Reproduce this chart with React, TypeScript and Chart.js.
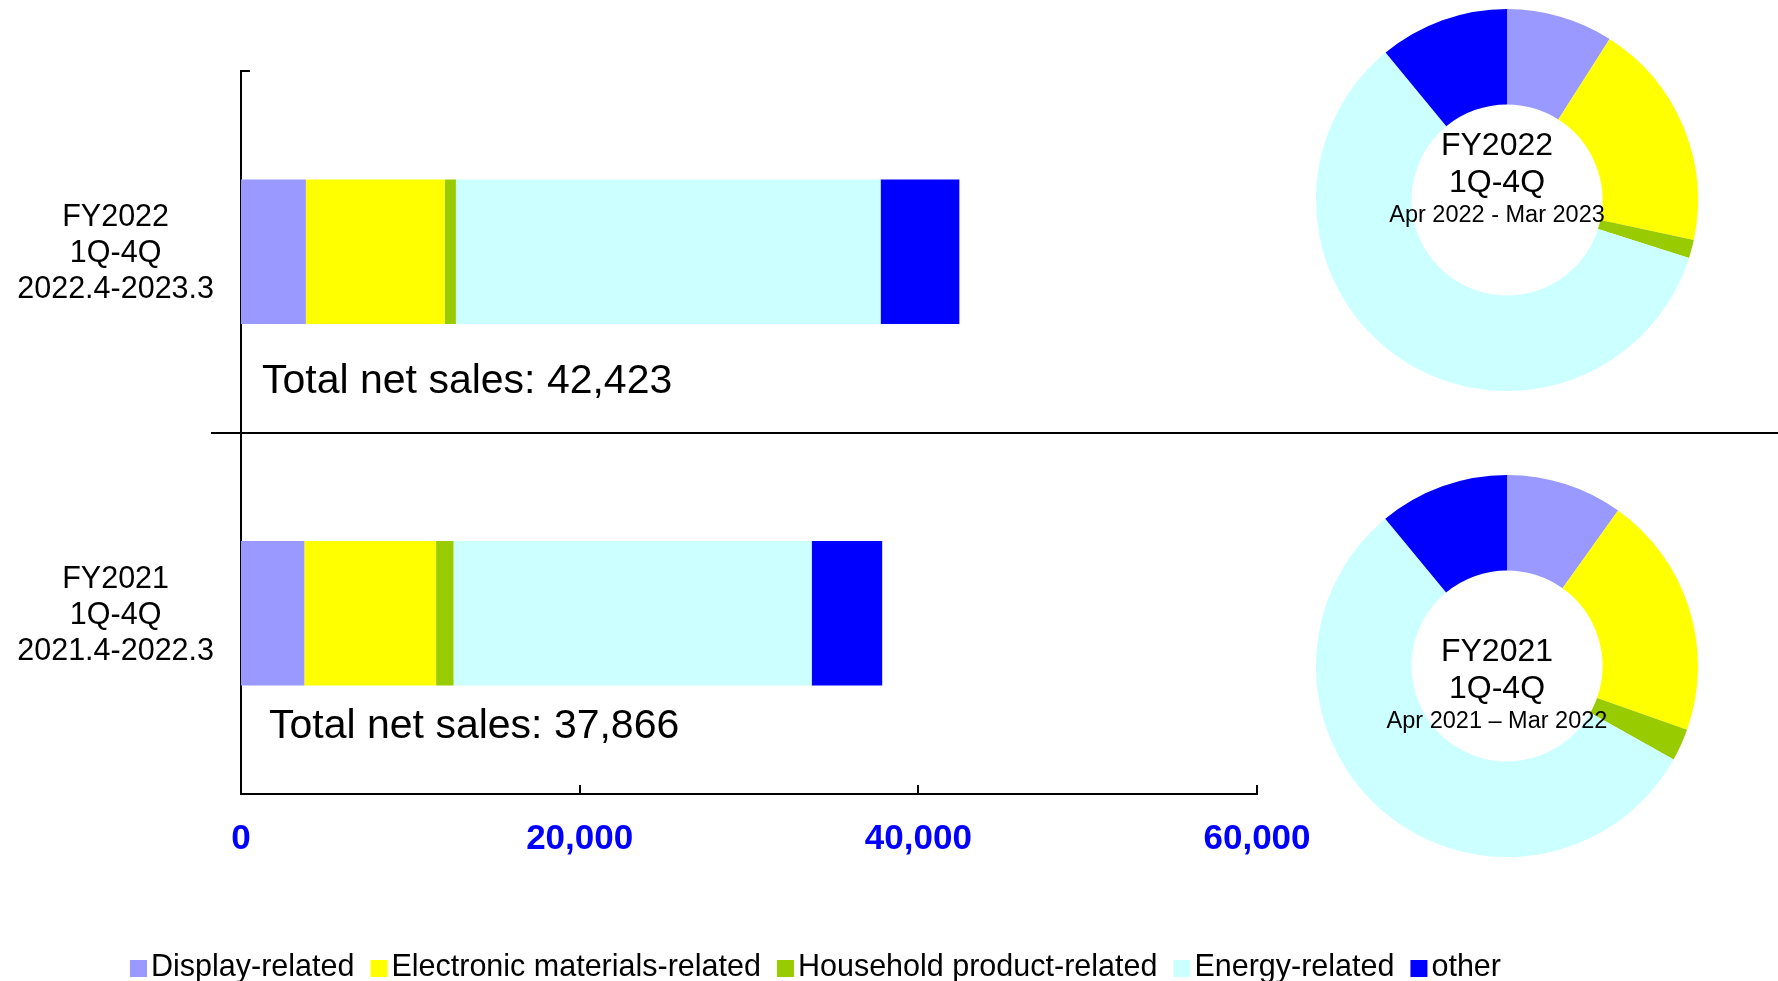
import React, { useEffect, useRef } from "react";
import { Chart, registerables } from "chart.js";

Chart.register(...registerables);

const FONT = '"Liberation Sans", Arial, Helvetica, sans-serif';

// ---- data ----
const segmentNames = [
  "Display-related",
  "Electronic materials-related",
  "Household product-related",
  "Energy-related",
  "other",
];
const segmentColors = ["#9999FF", "#FFFF00", "#99CC00", "#CCFFFF", "#0000FF"];
const periodLabels = [
  ["FY2022", "1Q-4Q", "2022.4-2023.3"],
  ["FY2021", "1Q-4Q", "2021.4-2022.3"],
];
const fy2022Values = [3830, 8200, 660, 25080, 4653];
const fy2021Values = [3740, 7780, 1030, 21150, 4166];
const totalNetSales = [42423, 37866];
const xTickStep = 20000;
const xMax = 60000;
const donutTitles = [
  ["FY2022", "1Q-4Q"],
  ["FY2021", "1Q-4Q"],
];
const donutSubtitles = ["Apr 2022 - Mar 2023", "Apr 2021 \u2013 Mar 2022"];

const W = 1778;
const H = 981;

const overlayPlugin = {
  id: "overlay",
  afterDraw(chart: any) {
    const { ctx, chartArea } = chart;
    const x = chart.scales.x;
    const y = chart.scales.y;
    ctx.save();
    ctx.strokeStyle = "#000";
    ctx.lineWidth = 2;
    // inward tick marks on the value axis
    x.ticks.forEach((t: any) => {
      if (t.value === 0) return;
      const px = Math.round(x.getPixelForValue(t.value));
      ctx.beginPath();
      ctx.moveTo(px, chartArea.bottom);
      ctx.lineTo(px, chartArea.bottom - 9);
      ctx.stroke();
    });
    // top tick on category axis
    ctx.beginPath();
    ctx.moveTo(chartArea.left, chartArea.top);
    ctx.lineTo(chartArea.left + 9, chartArea.top);
    ctx.stroke();
    // separator between the two periods
    const sepY = Math.round((y.getPixelForValue(0) + y.getPixelForValue(1)) / 2);
    ctx.beginPath();
    ctx.moveTo(chartArea.left - 30, sepY);
    ctx.lineTo(chart.width, sepY);
    ctx.stroke();

    // total net sales annotations
    ctx.fillStyle = "#000";
    ctx.font = `41px ${FONT}`;
    ctx.textAlign = "left";
    ctx.textBaseline = "alphabetic";
    const xOff = [21, 28];
    const yOff = [141, 125];
    totalNetSales.forEach((v, i) => {
      ctx.fillText(
        `Total net sales: ${v.toLocaleString("en-US")}`,
        chartArea.left + xOff[i],
        y.getPixelForValue(i) + yOff[i]
      );
    });

    // legend
    ctx.font = `30.5px ${FONT}`;
    ctx.textBaseline = "middle";
    let lx = 130;
    const ly = 968;
    chart.data.datasets.forEach((ds: any) => {
      ctx.fillStyle = ds.backgroundColor;
      ctx.fillRect(lx, ly - 8, 17, 17);
      ctx.fillStyle = "#000";
      ctx.fillText(ds.label, lx + 21, ly);
      lx += 21 + ctx.measureText(ds.label).width + 16;
    });
    ctx.restore();
  },
};

const centerTextPlugin = {
  id: "centerText",
  afterDraw(chart: any, _args: any, opts: any) {
    const meta = chart.getDatasetMeta(0);
    if (!meta || !meta.data.length) return;
    const arc = meta.data[0];
    const cx = arc.x + opts.dx;
    const cy = arc.y;
    const { ctx } = chart;
    ctx.save();
    ctx.fillStyle = "#000";
    ctx.textAlign = "center";
    ctx.textBaseline = "middle";
    opts.lines.forEach((line: string, i: number) => {
      ctx.font = `${opts.sizes[i]}px ${FONT}`;
      ctx.fillText(line, cx, cy + opts.ys[i]);
    });
    ctx.restore();
  },
};

function BarPanel() {
  const ref = useRef<HTMLCanvasElement>(null);
  useEffect(() => {
    if (!ref.current) return;
    const datasets = segmentNames.map((name, i) => ({
      label: name,
      data: [fy2022Values[i], fy2021Values[i]],
      backgroundColor: segmentColors[i],
      borderWidth: 0,
      barPercentage: 0.4,
      categoryPercentage: 1.0,
    }));
    const chart = new Chart(ref.current, {
      type: "bar",
      data: { labels: periodLabels as any, datasets },
      options: {
        indexAxis: "y",
        animation: false,
        responsive: false,
        devicePixelRatio: 1,
        layout: { padding: { top: 71, right: W - 1257, bottom: 0, left: 0 } },
        plugins: {
          legend: { display: false },
          tooltip: { enabled: false },
        },
        scales: {
          x: {
            stacked: true,
            min: 0,
            max: xMax,
            position: "bottom",
            ticks: {
              stepSize: xTickStep,
              autoSkip: false,
              maxRotation: 0,
              padding: 24,
              color: "#0000FF",
              font: { family: FONT, size: 35, weight: "bold", lineHeight: 1.2 },
              callback: (v: any) => Number(v).toLocaleString("en-US"),
            },
            grid: { display: false, drawTicks: false },
            border: { display: true, color: "#000", width: 2 },
            afterFit: (s: any) => {
              s.height = H - 794;
              s.paddingLeft = 0;
              s.paddingRight = 0;
            },
          },
          y: {
            stacked: true,
            ticks: {
              padding: 27,
              labelOffset: 2,
              crossAlign: "center",
              color: "#000",
              font: { family: FONT, size: 30.5, lineHeight: 1.18 },
            },
            grid: { display: false, drawTicks: false },
            border: { display: true, color: "#000", width: 2 },
            afterFit: (s: any) => {
              s.width = 241;
              s.paddingTop = 0;
              s.paddingBottom = 0;
            },
          },
        },
      } as any,
      plugins: [overlayPlugin],
    });
    return () => chart.destroy();
  }, []);
  return (
    <canvas
      ref={ref}
      width={W}
      height={H}
      style={{ position: "absolute", left: 0, top: 0, width: W, height: H }}
    />
  );
}

function Donut({
  values,
  idx,
  top,
  ys,
}: {
  values: number[];
  idx: number;
  top: number;
  ys: number[];
}) {
  const ref = useRef<HTMLCanvasElement>(null);
  useEffect(() => {
    if (!ref.current) return;
    const chart = new Chart(ref.current, {
      type: "doughnut",
      data: {
        labels: segmentNames,
        datasets: [
          {
            data: values,
            backgroundColor: segmentColors,
            borderWidth: 0,
          },
        ],
      },
      options: {
        animation: false,
        responsive: false,
        devicePixelRatio: 1,
        cutout: "50%",
        layout: { padding: 9 },
        plugins: {
          legend: { display: false },
          tooltip: { enabled: false },
          centerText: {
            lines: [...donutTitles[idx], donutSubtitles[idx]],
            sizes: [32, 32, 23.5],
            ys,
            dx: -10,
          },
        },
      } as any,
      plugins: [centerTextPlugin],
    });
    return () => chart.destroy();
  }, []);
  return (
    <canvas
      ref={ref}
      width={400}
      height={400}
      style={{ position: "absolute", left: 1307, top, width: 400, height: 400 }}
    />
  );
}

export default function App() {
  useEffect(() => {
    document.body.style.margin = "0";
    document.body.style.background = "#fff";
  }, []);
  return (
    <div style={{ position: "relative", width: W, height: H, overflow: "hidden", background: "#fff" }}>
      <BarPanel />
      <Donut values={fy2022Values} idx={0} top={0} ys={[-54, -17, 16]} />
      <Donut values={fy2021Values} idx={1} top={466} ys={[-14, 23, 56]} />
    </div>
  );
}
